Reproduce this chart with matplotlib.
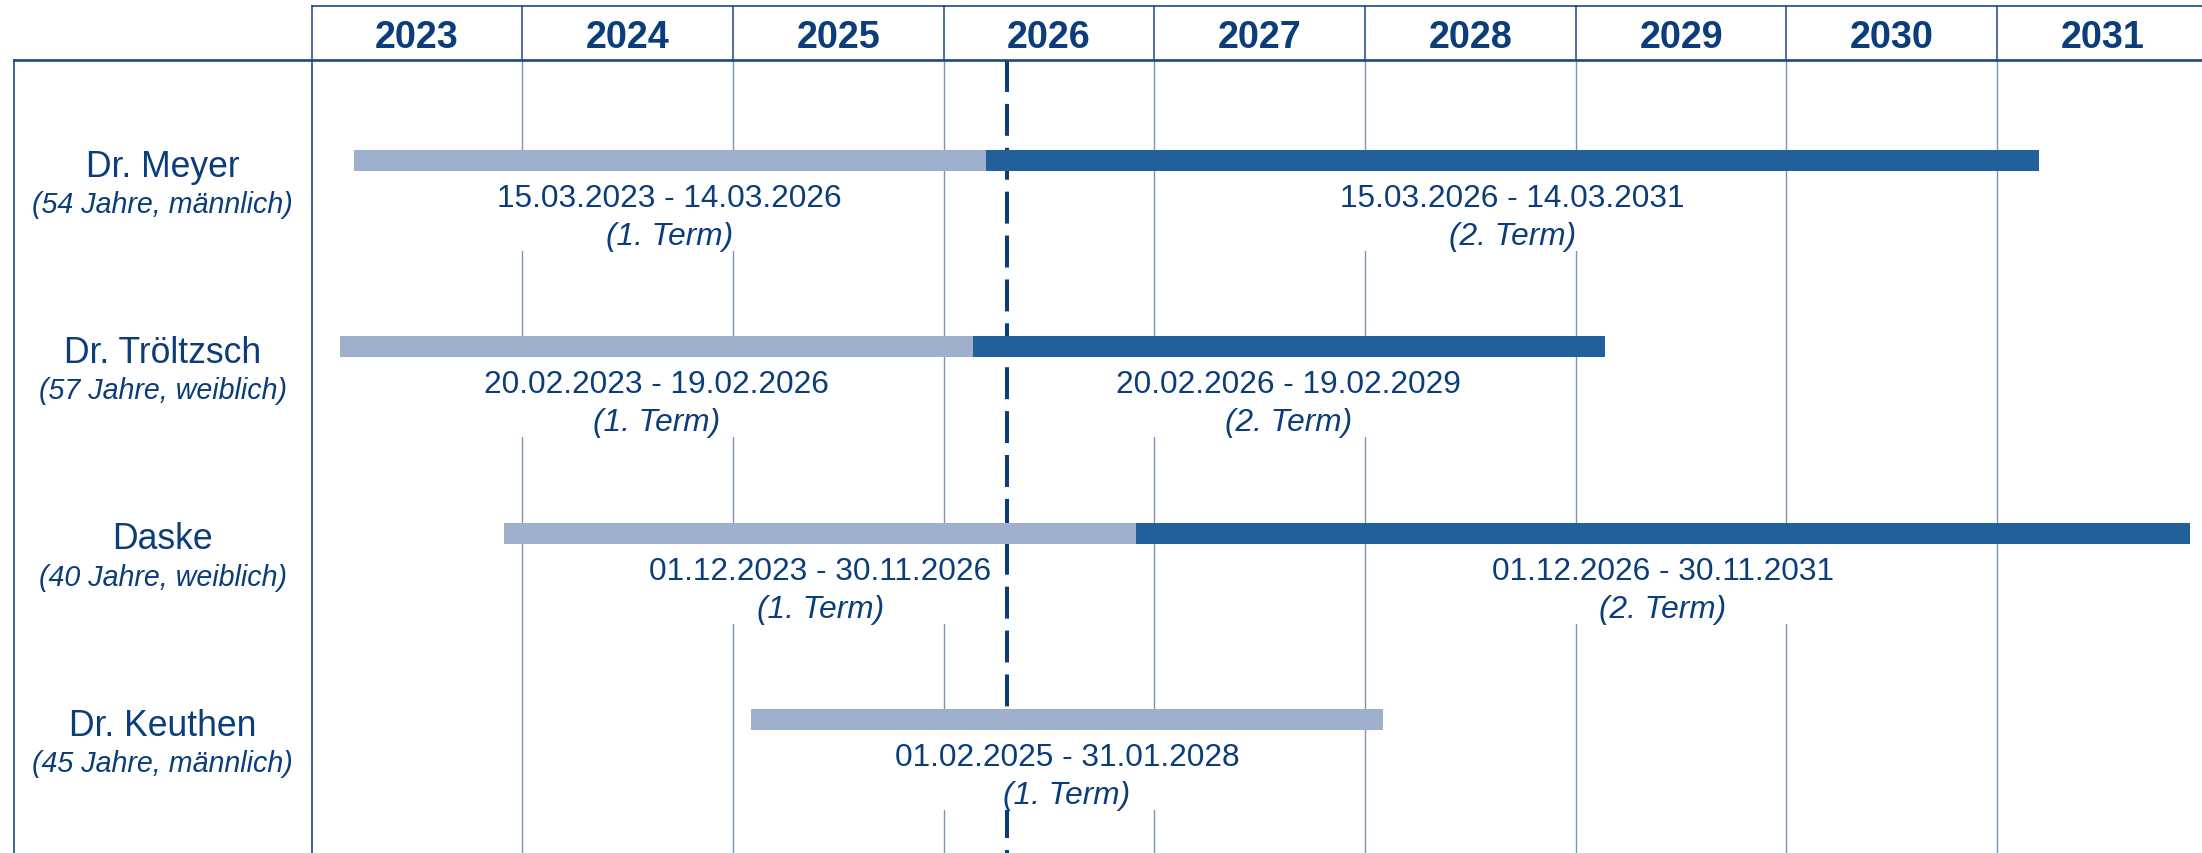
import matplotlib
matplotlib.use("Agg")
import matplotlib.pyplot as plt
import matplotlib.dates as mdates
from matplotlib.lines import Line2D
from matplotlib.patches import Rectangle
from datetime import date, timedelta

plt.rcParams["font.family"] = ["Liberation Sans", "DejaVu Sans"]
plt.rcParams["lines.scale_dashes"] = False

# ---- data -------------------------------------------------------------
years = list(range(2023, 2032))
members = ["Dr. Meyer", "Dr. Tröltzsch", "Daske", "Dr. Keuthen"]
member_info = ["(54 Jahre, männlich)", "(57 Jahre, weiblich)",
               "(40 Jahre, weiblich)", "(45 Jahre, männlich)"]
term1_start = ["2023-03-15", "2023-02-20", "2023-12-01", "2025-02-01"]
term1_end = ["2026-03-14", "2026-02-19", "2026-11-30", "2028-01-31"]
term2_start = ["2026-03-15", "2026-02-20", "2026-12-01", None]
term2_end = ["2031-03-14", "2029-02-19", "2031-11-30", None]
term_names = ["(1. Term)", "(2. Term)"]
today = "2026-04-20"

# ---- styles -----------------------------------------------------------
TEXT = "#0B3D7B"
BORDER = "#1D4884"
GRID = "#7E95B9"
LIGHT = "#9EB0CD"
DARK = "#22609C"

W, H = 2202, 854
DPI = 100
ROW = 186.3           # px between member rows
HEAD_TOP, HEAD_BOT = 7, 61
PANEL_L, CHART_L = 14, 311.5
CHART_R = 2207.5      # end of 2031 column (just past the right edge)


def d(s):
    return date.fromisoformat(s)


def num(dt):
    return mdates.date2num(dt)


fig = plt.figure(figsize=(W / DPI, H / DPI), dpi=DPI)
fig.patch.set_facecolor("white")

x0f = CHART_L / W
wf = (CHART_R - CHART_L) / W

ax = fig.add_axes([x0f, 0, wf, (H - HEAD_BOT) / H])
axh = fig.add_axes([x0f, (H - HEAD_BOT) / H, wf, (HEAD_BOT - HEAD_TOP) / H])
axl = fig.add_axes([PANEL_L / W, 0, (CHART_L - PANEL_L) / W, (H - HEAD_BOT) / H],
                   sharey=ax)

xmin, xmax = num(date(years[0], 1, 1)), num(date(years[-1] + 1, 1, 1))
for a in (ax, axh):
    a.set_xlim(xmin, xmax)
axh.set_ylim(0, 1)
body_h = H - HEAD_BOT
top_off = 100.5
ax.set_ylim((body_h - top_off) / ROW, -top_off / ROW)
axl.set_xlim(0, 1)
for a in (ax, axh, axl):
    a.axis("off")
    a.patch.set_alpha(0)

# ---- header -----------------------------------------------------------
for y in years:
    mid = num(date(y, 1, 1)) + (num(date(y + 1, 1, 1)) - num(date(y, 1, 1))) / 2
    axh.text(mid, 0.5, str(y), ha="center", va="center_baseline",
             fontsize=27.2, fontweight="bold", color=TEXT)
    axh.axvline(num(date(y, 1, 1)), color=BORDER, lw=1.1, clip_on=False)
axh.axhline(1, color=BORDER, lw=1.2, clip_on=False)

# header bottom rule across label panel and chart
yb = (H - HEAD_BOT) / H
fig.add_artist(Line2D([PANEL_L / W, 1], [yb, yb], color=BORDER, lw=1.9))
# label panel left border
fig.add_artist(Line2D([PANEL_L / W, PANEL_L / W], [0, yb], color=BORDER, lw=1.2))

# ---- grid -------------------------------------------------------------
ylo, yhi = ax.get_ylim()
ax.plot([xmin, xmin], [yhi, ylo], color=BORDER, lw=1.2, clip_on=False, zorder=1)
for y in years[1:]:
    ax.plot([num(date(y, 1, 1))] * 2, [yhi, ylo], color=GRID, lw=1.0,
            clip_on=False, zorder=1)

# today marker
tx = num(d(today))
ln, = ax.plot([tx, tx], [yhi, ylo], color=TEXT, lw=2.9, zorder=2)
ln.set_dashes([23, 8.6])

# ---- bars and labels --------------------------------------------------
BAR_H = 21 / ROW
labels = []
for i, name in enumerate(members):
    terms = [(term1_start[i], term1_end[i], LIGHT, term_names[0])]
    if term2_start[i]:
        terms.append((term2_start[i], term2_end[i], DARK, term_names[1]))
    for s, e, col, tname in terms:
        s_d, e_d = d(s), d(e) + timedelta(days=1)
        ax.barh(i, num(e_d) - num(s_d), left=num(s_d), height=BAR_H,
                color=col, zorder=4, linewidth=0)
        cx = (num(s_d) + num(e_d)) / 2
        t1 = ax.text(cx, i + 45.7 / ROW,
                     f"{d(s):%d.%m.%Y} - {d(e):%d.%m.%Y}",
                     ha="center", va="baseline", fontsize=22.8, color=TEXT,
                     zorder=6)
        t2 = ax.text(cx, i + 83.5 / ROW, tname, ha="center", va="baseline",
                     fontsize=22.8, fontstyle="italic", color=TEXT, zorder=6)
        labels.append((i, t1, t2))

    axl.text(0.5, i + 15.2 / ROW, name, ha="center", va="baseline",
             fontsize=25.6, color=TEXT)
    axl.text(0.5, i + 51.5 / ROW, member_info[i], ha="center", va="baseline",
             fontsize=20.6, fontstyle="italic", color=TEXT)

# white backing behind each label pair, masking grid and today line
fig.canvas.draw()
rend = fig.canvas.get_renderer()
inv = ax.transData.inverted()
pad = 4
for i, t1, t2 in labels:
    b1 = t1.get_window_extent(rend)
    b2 = t2.get_window_extent(rend)
    left = min(b1.x0, b2.x0) - pad
    right = max(b1.x1, b2.x1) + pad
    bottom = b2.y0
    (lx, by), (rx, _) = inv.transform([(left, bottom), (right, bottom)])
    top = i + BAR_H / 2
    ax.add_patch(Rectangle((lx, top), rx - lx, by - top, facecolor="white",
                           edgecolor="none", zorder=3))

fig.savefig("out.png", dpi=DPI, facecolor="white")
